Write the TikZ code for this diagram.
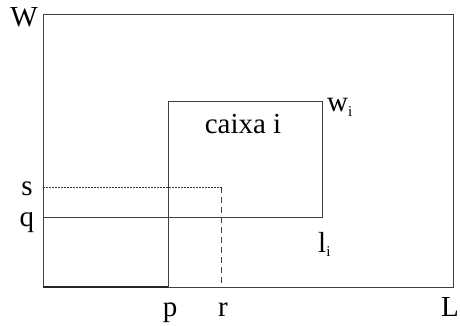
\documentclass[tikz,border=0pt]{standalone}
\usepackage{fontspec}
\setmainfont{Liberation Serif}
\newcommand{\subidx}[1]{\raisebox{-0.35ex}{\fontsize{15}{15}\selectfont #1}}
\tikzset{
  lbl/.style={inner sep=0pt, font=\fontsize{29}{34}\selectfont, anchor=base},
  edge/.style={draw=black!75, line width=0.9pt},
  dotline/.style={draw=black!80, line width=0.8pt, dash pattern=on 2pt off 1pt},
  dashline/.style={draw=black!75, line width=0.8pt, dash pattern=on 6pt off 4pt}
}
\begin{document}
\begin{tikzpicture}[x=1pt,y=-1pt]
\useasboundingbox (0,0) rectangle (460,326);
% corners
\coordinate (O) at (43,287);
\coordinate (TL) at (43,14);
\coordinate (TR) at (453,14);
\coordinate (BR) at (453,287);
\coordinate (Q) at (43,217);
\coordinate (S) at (43,187);
\coordinate (P) at (168,287);
\coordinate (R) at (221,287);
\coordinate (BoxTL) at (168,101);
\coordinate (BoxTR) at (322,101);
\coordinate (BoxBR) at (322,217);
\coordinate (SR) at (221,187);
% outer container
\draw[edge] (O) -- (TL) -- (TR) -- (BR) -- (O);
\draw[draw=black!85, line width=1.6pt] (O) -- (P);
% box i
\draw[edge] (P) -- (BoxTL) -- (BoxTR) -- (BoxBR) -- (Q);
% s / r
\draw[dotline] (S) -- (SR);
\draw[dashline] (SR) -- (R);
% labels
\node[lbl] (lW) at (24,27) {W};
\node[lbl] (ls) at (27,195) {s};
\node[lbl] (lq) at (27,226) {q};
\node[lbl] (lp) at (170,316) {p};
\node[lbl] (lr) at (223,316) {r};
\node[lbl, anchor=base east] (lL) at (459,316) {L};
\node[lbl] (lcaixa) at (243,133) {caixa i};
\node[lbl, anchor=base west] (lw) at (327,112) {w\subidx{i}};
\node[lbl, anchor=base west] (ll) at (318,252) {l\subidx{i}};
\end{tikzpicture}
\end{document}
